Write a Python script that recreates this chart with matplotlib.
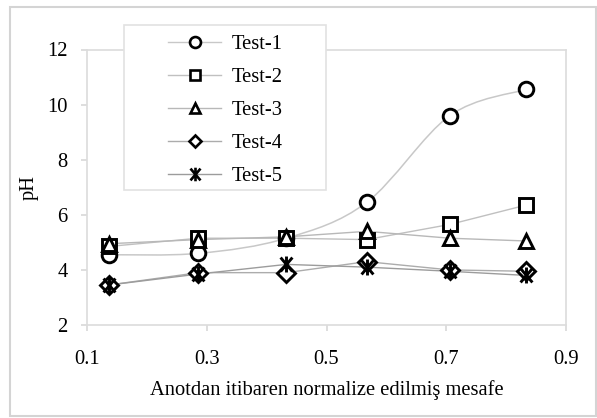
import matplotlib
matplotlib.use("Agg")
import matplotlib.pyplot as plt
from matplotlib.path import Path
from matplotlib.patches import PathPatch, Rectangle
from matplotlib.lines import Line2D

plt.rcParams['font.family'] = ['Liberation Serif', 'DejaVu Serif']

# ---- data ----
distance = [0.136, 0.286, 0.433, 0.567, 0.706, 0.833]
test1 = [4.55, 4.6, 5.15, 6.45, 9.6, 10.55]
test2 = [4.85, 5.15, 5.15, 5.1, 5.65, 6.35]
test3 = [4.95, 5.1, 5.2, 5.4, 5.15, 5.05]
test4 = [3.45, 3.9, 3.9, 4.3, 4.0, 3.95]
test5 = [3.45, 3.85, 4.2, 4.1, 3.95, 3.8]
labels = ["Test-1", "Test-2", "Test-3", "Test-4", "Test-5"]
x_ticks = [0.1, 0.3, 0.5, 0.7, 0.9]
y_ticks = [2, 4, 6, 8, 10, 12]

W, H = 597, 418
fig = plt.figure(figsize=(W / 100, H / 100), dpi=100)
ax = fig.add_axes([87 / W, 1 - 325 / H, (566 - 87) / W, (325 - 49.5) / H])

asterisk = Path([(-0.85, -1), (0.85, 1), (-0.85, 1), (0.85, -1), (0, -1.15), (0, 1.15)],
                [Path.MOVETO, Path.LINETO, Path.MOVETO, Path.LINETO, Path.MOVETO, Path.LINETO])

markers = ['o', 's', '^', 'D', asterisk]
msizes = [10.5, 10.5, 10.5, 8.8, 11.5]
legend_scale = [0.75, 0.75, 0.75, 0.75, 0.85]
line_colors = ['#c8c8c8', '#c0c0c0', '#b8b8b8', '#acacac', '#9c9c9c']
series = [test1, test2, test3, test4, test5]
FS = 14.8


def smooth_path(xs, ys):
    pts = list(zip(xs, ys))
    n = len(pts)
    verts = [pts[0]]
    codes = [Path.MOVETO]
    for i in range(n - 1):
        p0 = pts[i - 1] if i > 0 else pts[i]
        p1 = pts[i]
        p2 = pts[i + 1]
        p3 = pts[i + 2] if i + 2 < n else pts[i + 1]
        c1 = (p1[0] + (p2[0] - p0[0]) / 6, p1[1] + (p2[1] - p0[1]) / 6)
        c2 = (p2[0] - (p3[0] - p1[0]) / 6, p2[1] - (p3[1] - p1[1]) / 6)
        verts += [c1, c2, p2]
        codes += [Path.CURVE4] * 3
    return Path(verts, codes)


handles = []
for k, (ys, m, ms, lc, lab) in enumerate(zip(series, markers, msizes, line_colors, labels)):
    if k == 0:
        ax.add_patch(PathPatch(smooth_path(distance, ys), facecolor='none',
                               edgecolor=lc, lw=1.1, zorder=2))
    else:
        ax.plot(distance, ys, color=lc, lw=1.0, zorder=2)
    ax.plot(distance, ys, linestyle='none', marker=m, markersize=ms,
            markerfacecolor='white' if k < 4 else 'none', markeredgecolor='black',
            markeredgewidth=2.1, zorder=3 + k)
    handles.append(Line2D([], [], color=lc, lw=1.0, marker=m, markersize=ms * legend_scale[k],
                          markerfacecolor='white' if k < 4 else 'none',
                          markeredgecolor='black', markeredgewidth=1.9, label=lab))

ax.set_xlim(0.1, 0.9)
ax.set_ylim(2, 12)
ax.set_xticks(x_ticks)
ax.set_xticklabels([f"{v:.1f}" for v in x_ticks])
ax.set_yticks(y_ticks)
ax.set_yticklabels([str(v) for v in y_ticks])
for s in ax.spines.values():
    s.set_color('#dcdcdc')
    s.set_linewidth(1.2)
ax.tick_params(axis='both', color='#d8d8d8', length=4, width=1.2,
               labelsize=FS, labelcolor='black')
ax.tick_params(axis='x', pad=14)
ax.tick_params(axis='y', pad=10)
ax.set_xlabel("Anotdan itibaren normalize edilmiş mesafe", fontsize=FS, labelpad=8)
ax.set_ylabel("pH", fontsize=FS, labelpad=6)

# legend box
fig.patches.append(Rectangle((124 / W, 1 - 190 / H), (326 - 124) / W, (190 - 25) / H,
                             transform=fig.transFigure, facecolor='white',
                             edgecolor='#e2e2e2', lw=1.2, zorder=5))
leg = fig.legend(handles=handles, loc='upper left',
                 bbox_to_anchor=(168 / W, 1 - 35 / H), bbox_transform=fig.transFigure,
                 frameon=False, fontsize=FS, borderpad=0, borderaxespad=0,
                 handlelength=2.6, handletextpad=0.5, labelspacing=0.66)
leg.set_zorder(6)

# outer chart border
fig.patches.append(Rectangle((10 / W, 1 - 416 / H), (596 - 10) / W, (416 - 7) / H,
                             transform=fig.transFigure, facecolor='none',
                             edgecolor='#d4d4d4', lw=1.5, zorder=0))

fig.savefig("out.png", dpi=100)
